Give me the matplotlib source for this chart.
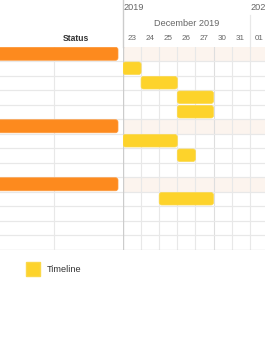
import matplotlib
matplotlib.use("Agg")
import matplotlib.pyplot as plt
from matplotlib.patches import FancyBboxPatch
from matplotlib.lines import Line2D
import matplotlib.transforms as mtransforms

plt.rcParams['font.family'] = ['Liberation Sans', 'DejaVu Sans']

# ---- data ----
day_keys = ['2019-12-23', '2019-12-24', '2019-12-25', '2019-12-26', '2019-12-27',
            '2019-12-30', '2019-12-31', '2020-01-01', '2020-01-02']
day_labels = ['23', '24', '25', '26', '27', '30', '31', '01']
year_labels = ['2019', '2020']
year_start_day = ['2019-12-23', '2020-01-01']
month_label = 'December 2019'
column_header = 'Status'
n_rows = 14
parent_rows = [0, 5, 9]
task_rows = [1, 2, 3, 4, 6, 7, 10]
task_starts = ['2019-12-23', '2019-12-24', '2019-12-26', '2019-12-26',
               '2019-12-23', '2019-12-26', '2019-12-25']
task_ends = ['2019-12-24', '2019-12-26', '2019-12-30', '2019-12-30',
             '2019-12-26', '2019-12-27', '2019-12-30']
legend_label = 'Timeline'

# ---- style ----
W, H = 265, 360
ORANGE = '#fd8a1e'
YELLOW = '#fdd32b'
PEACH = '#fcf4ee'
GRID = '#e8e8e8'
AXIS = '#cccccc'
TXT = '#666666'
DARK = '#333333'

fig = plt.figure(figsize=(W / 100, H / 100), dpi=100)
row_top, row_bot = 46.5, 249.5
chart_left = 123
col_w = 18.1
ax_y = (H - row_bot) / H
ax_h = (row_bot - row_top) / H

ax = fig.add_axes([chart_left / W, ax_y, (W - chart_left) / W, ax_h])
ax.set_xlim(0, (W - chart_left) / col_w)
ax.set_ylim(n_rows - 0.5, -0.5)
ax.axis('off')

lax = fig.add_axes([0, ax_y, chart_left / W, ax_h])
lax.set_xlim(0, chart_left)
lax.set_ylim(n_rows - 0.5, -0.5)
lax.axis('off')

def idx(d):
    return day_keys.index(d)

# parent row backgrounds
for r in parent_rows:
    ax.axhspan(r - 0.5, r + 0.5, color=PEACH, zorder=0, lw=0)

# vertical grid lines in chart
for i in range(1, len(day_keys)):
    c = '#dedede' if i in (5,) else GRID
    ax.axvline(i, color=c, lw=0.8, zorder=1)
ax.axvline(0, color=AXIS, lw=1.0, zorder=3)

# horizontal row lines
for r in range(n_rows):
    for a in (ax, lax):
        a.axhline(r + 0.5, color=GRID if r < n_rows - 1 else AXIS, lw=0.9, zorder=1)
lax.axvline(54, color=GRID, lw=0.8, zorder=1)

# task bars
ypx = (row_bot - row_top) / n_rows
bar_h = 0.86
rad = 2.5
for r, s, e in zip(task_rows, task_starts, task_ends):
    x0 = idx(s)
    w = idx(e) - x0
    p = FancyBboxPatch((x0, r - bar_h / 2), w, bar_h,
                       boxstyle=f"round,pad=0,rounding_size={rad / col_w}",
                       mutation_aspect=col_w / ypx,
                       fc=YELLOW, ec='#fbd84a', lw=0.5, zorder=4)
    ax.add_patch(p)

# parent bars in grid column
for r in parent_rows:
    p = FancyBboxPatch((-5, r - 0.45), 123, 0.9,
                       boxstyle=f"round,pad=0,rounding_size={rad}",
                       mutation_aspect=1 / ypx,
                       fc=ORANGE, ec='#fd9a3e', lw=0.5, zorder=4)
    lax.add_patch(p)

# header texts
tr = mtransforms.blended_transform_factory(ax.transData, fig.transFigure)
for i, lab in enumerate(day_labels):
    fig.text(i + 0.5, 1 - 38.5 / H, lab, transform=tr, ha='center', va='center',
             fontsize=5.8, color=TXT)
fig.text(idx('2019-12-23') + 3.5, 1 - 23.5 / H, month_label, transform=tr,
         ha='center', va='center', fontsize=6.6, color=TXT)
for lab, d in zip(year_labels, year_start_day):
    fig.text(idx(d) + 0.05, 1 - 7 / H, lab, transform=tr, ha='left', va='center',
             fontsize=6.6, color=TXT)
fig.text(76 / W, 1 - 38.5 / H, column_header, ha='center', va='center',
         fontsize=6.2, color=DARK, fontweight='bold')

# header lines
trl = mtransforms.blended_transform_factory(ax.transData, fig.transFigure)
fig.add_artist(Line2D([0, 0], [1 - row_top / H, 1], transform=trl, color=AXIS, lw=1.0))
fig.add_artist(Line2D([idx('2020-01-01')] * 2, [1 - row_top / H, 1 - 15 / H],
                      transform=trl, color=GRID, lw=0.9))

# legend
h = Line2D([], [], marker='s', ls='none', markersize=9.4, markerfacecolor=YELLOW,
           markeredgecolor='#fbd84a', label=legend_label)
leg = fig.legend(handles=[h], loc='center left', bbox_to_anchor=(28 / W, 1 - 270 / H),
                 frameon=False, fontsize=6.6, handlelength=1.0, handletextpad=1.0,
                 borderpad=0, borderaxespad=0)
for t in leg.get_texts():
    t.set_color(DARK)

fig.savefig('out.png', dpi=100, facecolor='white')
